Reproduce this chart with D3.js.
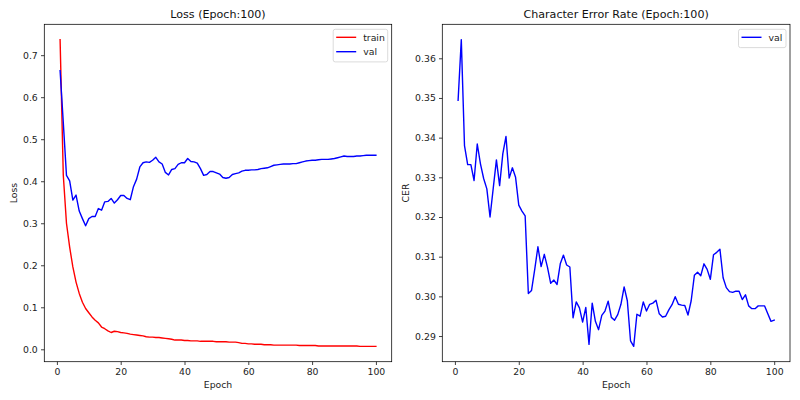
<!DOCTYPE html>
<html><head><meta charset="utf-8">
<script src="https://cdn.jsdelivr.net/npm/d3@7/dist/d3.min.js"></script>
<style>
body{margin:0;background:#fff;}
svg{display:block;font-family:"DejaVu Sans",sans-serif;}
</style></head>
<body>
<svg id="chart" width="800" height="400"></svg>
<script>
// ---- data ----
const epochs = d3.range(1, 101);
const trainLoss = [0.737,0.415,0.300,0.243,0.196,0.160,0.133,0.112,0.097,0.087,
0.077,0.069,0.063,0.053,0.049,0.044,0.040,0.043,0.042,0.040,
0.039,0.038,0.036,0.035,0.034,0.033,0.032,0.030,0.029,0.029,
0.028,0.028,0.027,0.026,0.025,0.024,0.022,0.022,0.022,0.021,
0.021,0.020,0.020,0.020,0.019,0.019,0.019,0.019,0.019,0.018,
0.018,0.018,0.018,0.017,0.017,0.017,0.016,0.014,0.014,0.013,
0.013,0.012,0.012,0.012,0.011,0.011,0.011,0.010,0.010,0.010,
0.010,0.010,0.010,0.010,0.010,0.009,0.009,0.009,0.009,0.009,
0.009,0.008,0.008,0.008,0.008,0.008,0.008,0.008,0.008,0.008,
0.008,0.008,0.008,0.008,0.007,0.007,0.007,0.007,0.007,0.007];
const valLoss = [0.663,0.540,0.414,0.401,0.355,0.367,0.329,0.311,0.294,0.311,
0.316,0.316,0.335,0.331,0.351,0.352,0.359,0.348,0.356,0.366,
0.366,0.359,0.356,0.387,0.405,0.434,0.444,0.446,0.445,0.450,
0.457,0.446,0.441,0.421,0.415,0.428,0.430,0.440,0.444,0.444,
0.454,0.447,0.446,0.443,0.430,0.414,0.416,0.423,0.423,0.420,
0.417,0.409,0.407,0.409,0.416,0.418,0.420,0.424,0.426,0.426,
0.427,0.427,0.428,0.430,0.431,0.432,0.435,0.438,0.439,0.440,
0.441,0.441,0.441,0.442,0.442,0.444,0.446,0.448,0.449,0.450,
0.450,0.451,0.452,0.452,0.452,0.453,0.454,0.456,0.458,0.460,
0.459,0.459,0.459,0.460,0.460,0.461,0.462,0.462,0.462,0.462];
const valCER = [0.3494,0.3647,0.3380,0.3332,0.3332,0.3292,0.3384,0.3334,0.3297,0.3271,
0.3200,0.3272,0.3344,0.3279,0.3359,0.3403,0.3298,0.3324,0.3300,0.3230,
0.3215,0.3203,0.3007,0.3015,0.3068,0.3125,0.3075,0.3106,0.3073,0.3033,
0.3041,0.3030,0.3082,0.3104,0.3079,0.3074,0.2946,0.2986,0.2971,0.2935,
0.2972,0.2879,0.2983,0.2937,0.2916,0.2952,0.2963,0.2988,0.2947,0.2940,
0.2954,0.2980,0.3024,0.2989,0.2888,0.2874,0.2955,0.2950,0.2986,0.2963,
0.2980,0.2983,0.2990,0.2956,0.2948,0.2950,0.2966,0.2979,0.2999,0.2980,
0.2978,0.2977,0.2953,0.2989,0.3053,0.3061,0.3052,0.3082,0.3068,0.3043,
0.3105,0.3111,0.3119,0.3047,0.3022,0.3012,0.3010,0.3013,0.3013,0.2992,
0.3004,0.2976,0.2969,0.2969,0.2976,0.2976,0.2976,0.2956,0.2937,0.2940];
const xTicks = [0,20,40,60,80,100];
const lossTicks = [0.0,0.1,0.2,0.3,0.4,0.5,0.6,0.7];
const cerTicks = [0.29,0.30,0.31,0.32,0.33,0.34,0.35,0.36];

const svg = d3.select("#chart");
const FS = 9.3;

function panel(opts){
  const {left,right,top,bottom,title,ylabel,series,yTicks,yFmt,legend} = opts;
  const all = series.flatMap(s=>s.values);
  const ymin = d3.min(all), ymax = d3.max(all), yr = ymax-ymin;
  const x = d3.scaleLinear().domain([1-99*0.05, 100+99*0.05]).range([left,right]);
  const y = d3.scaleLinear().domain([ymin-yr*0.05, ymax+yr*0.05]).range([bottom,top]);
  const g = svg.append("g");
  // lines
  const clipId = "clip"+Math.round(left);
  svg.append("clipPath").attr("id",clipId).append("rect")
    .attr("x",left).attr("y",top).attr("width",right-left).attr("height",bottom-top);
  series.forEach(s=>{
    g.append("path").datum(s.values)
      .attr("clip-path",`url(#${clipId})`)
      .attr("fill","none").attr("stroke",s.color).attr("stroke-width",1.4)
      .attr("stroke-linejoin","round").attr("stroke-linecap","square")
      .attr("d", d3.line().x((d,i)=>x(epochs[i])).y(d=>y(d)));
  });
  // axes
  const xa = g.append("g").attr("transform",`translate(0,${bottom})`)
    .call(d3.axisBottom(x).tickValues(xTicks).tickSize(3.3).tickPadding(3.2).tickFormat(d3.format("d")));
  const ya = g.append("g").attr("transform",`translate(${left},0)`)
    .call(d3.axisLeft(y).tickValues(yTicks).tickSize(3.3).tickPadding(3.2).tickFormat(d3.format(yFmt)));
  [xa,ya].forEach(a=>{
    a.select(".domain").remove();
    a.selectAll("line").attr("stroke","#000").attr("stroke-width",0.75);
    a.selectAll("text").attr("font-size",FS).attr("fill","#222").attr("font-family","DejaVu Sans");
  });
  // frame
  g.append("rect").attr("x",left).attr("y",top).attr("width",right-left).attr("height",bottom-top)
    .attr("fill","none").attr("stroke","#000").attr("stroke-width",0.75);
  // title & labels
  g.append("text").attr("x",(left+right)/2).attr("y",top-6.5).attr("text-anchor","middle")
    .attr("font-size",11.1).attr("fill","#111").text(title);
  g.append("text").attr("x",(left+right)/2).attr("y",bottom+26.5).attr("text-anchor","middle")
    .attr("font-size",FS).attr("fill","#222").text("Epoch");
  g.append("text").attr("transform",`translate(${opts.ylabelX},${(top+bottom)/2}) rotate(-90)`)
    .attr("text-anchor","middle").attr("font-size",FS).attr("fill","#222").text(ylabel);
  // legend
  const lw = legend.w, lh = 4 + series.length*14.3;
  const lx = right-4-lw, ly = top+5;
  g.append("rect").attr("x",lx).attr("y",ly).attr("width",lw).attr("height",lh)
    .attr("rx",2).attr("fill","#fff").attr("fill-opacity",0.8).attr("stroke","#ccc").attr("stroke-width",0.7);
  series.forEach((s,i)=>{
    const cy = ly+8 + i*14.4;
    g.append("line").attr("x1",lx+3).attr("x2",lx+23).attr("y1",cy).attr("y2",cy)
      .attr("stroke",s.color).attr("stroke-width",1.4);
    g.append("text").attr("x",lx+30).attr("y",cy+3.3).attr("font-size",FS).attr("fill","#222").text(s.name);
  });
}

panel({left:44.3,right:391.7,top:24.3,bottom:361.7,title:"Loss (Epoch:100)",ylabel:"Loss",ylabelX:17,
  series:[{name:"train",values:trainLoss,color:"#ff0000"},{name:"val",values:valLoss,color:"#0000ff"}],
  yTicks:lossTicks,yFmt:".1f",legend:{w:54.5}});
panel({left:442.3,right:790,top:24.3,bottom:361.7,title:"Character Error Rate (Epoch:100)",ylabel:"CER",ylabelX:409,
  series:[{name:"val",values:valCER,color:"#0000ff"}],
  yTicks:cerTicks,yFmt:".2f",legend:{w:47.5}});
</script>
</body></html>
